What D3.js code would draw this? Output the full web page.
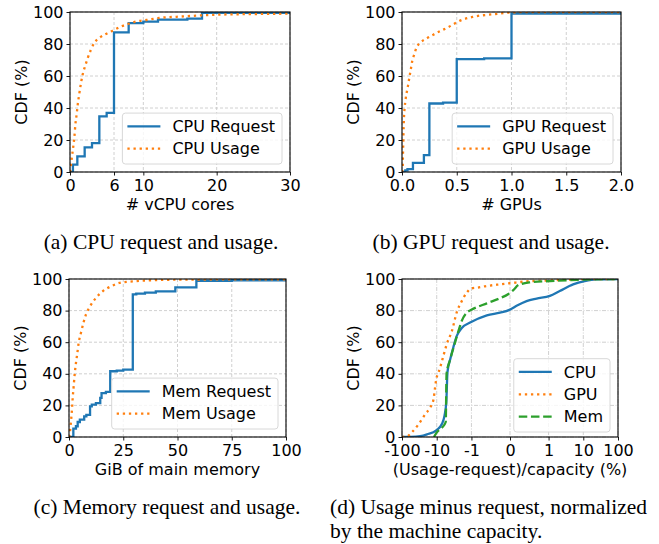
<!DOCTYPE html>
<html>
<head>
<meta charset="utf-8">
<script src="https://cdn.jsdelivr.net/npm/d3@7"></script>
<style>
  body { margin: 0; background: #fff; }
  svg { display: block; background: #fff; font-family: "DejaVu Sans", sans-serif; }
  .caption { font-family: "Liberation Serif", "Times New Roman", serif; font-size: 21.5px; fill: #000; }
</style>
</head>
<body>
<svg id="chart"></svg>
<script>
// values (CDF in %)

// (a) CPU
const cpuReqX = [0, 0.4, 1, 2, 3, 4, 5, 6, 8, 10, 12, 16, 18, 30];
const cpuReqY = [0, 4.6, 9.8, 15.4, 18, 34.8, 36.9, 87.3, 93, 94, 95.2, 95.8, 99.5, 99.5];
const cpuUseX = [0, 0.14, 0.27, 0.45, 0.6, 0.73, 0.9, 1.05, 1.27, 1.5, 1.73, 2.05, 2.4, 2.86, 3.3, 4.0, 4.9, 5.8, 6.7, 7.9, 9, 10.4, 12.6, 14.5, 20, 25, 30];
const cpuUseY = [0, 4.6, 9.8, 16, 22, 29.6, 35.8, 42, 49, 55.6, 61, 66, 71, 76.5, 80.6, 83.8, 86.3, 88.3, 90.4, 92.5, 94, 95, 96.5, 97, 98.3, 98.7, 99];

// (b) GPU
const gpuReqX = [0, 0.03, 0.05, 0.1, 0.2, 0.25, 0.375, 0.5, 0.75, 1.0, 2.0];
const gpuReqY = [0, 1, 1.8, 5.7, 10.5, 42.8, 43.3, 70.6, 71, 99, 99];
const gpuUseX = [0, 0.006, 0.009, 0.012, 0.015, 0.018, 0.024, 0.033, 0.043, 0.055, 0.067, 0.08, 0.094, 0.113, 0.134, 0.164, 0.225, 0.286, 0.347, 0.42, 0.53, 0.65, 0.85, 0.97, 1.2, 2.0];
const gpuUseY = [0, 2.7, 11, 19.4, 28, 34, 40, 45.5, 49.7, 54, 59, 64, 69.5, 73.7, 78, 80.6, 83.5, 85.8, 88, 90.4, 94.6, 97, 98.7, 99.6, 100, 100];

// (c) memory, GiB
const memReqX = [0, 2, 3.2, 4, 5, 7, 8, 9.7, 10.5, 12.4, 14.4, 15, 17, 19, 22, 25, 29.4, 31, 35, 40, 49, 58.7, 75, 100];
const memReqY = [0, 5.3, 6.8, 9.5, 11, 13, 14, 19.4, 20.5, 21.5, 24.7, 27.8, 28.5, 41.6, 42, 42.6, 90.3, 90.8, 91.4, 92.2, 94.7, 98.9, 99.2, 99.4];
const memUseX = [0, 0.46, 0.92, 1.4, 1.7, 2.15, 2.6, 3.2, 3.84, 4.45, 5.5, 6.6, 7.8, 9.7, 12.4, 15.5, 19.4, 23.2, 29.3, 38.6, 50, 100];
const memUseY = [0, 3.6, 10, 18, 24.7, 32, 39.5, 46.8, 53, 59.5, 65.8, 72, 77.4, 82.7, 88, 92.2, 95.4, 97.5, 98.5, 99.2, 99.6, 99.8];

// (d) (usage - request) / capacity, %
const diffCpuX = [-100, -40, -30, -19, -10.3, -7.1, -5.96, -5.3, -4.9, -4.1, -3.3, -2.64, -1.9, -1.09, -0.6, -0.26, 0, 0.17, 0.43, 0.69, 1.09, 2.1, 5.1, 11, 24, 100];
const diffCpuY = [0, 0.2, 0.5, 1.7, 4.2, 8.2, 13.5, 22, 41, 49, 57, 64, 69, 72.4, 77, 78.7, 80.6, 83, 86, 87.6, 89.3, 92.4, 96.6, 98.7, 99.8, 100];
const diffGpuX = [-100, -70, -52, -33, -21.4, -15.3, -12.3, -11.5, -10.3, -8.8, -7.5, -6.3, -5.1, -3.66, -2.64, -1.9, -1.36, -1.04, -0.86, -0.6, -0.26, 0, 0.43, 0.95, 5.1, 20, 100];
const diffGpuY = [0, 0.5, 3, 8.2, 14.5, 18.7, 24, 29, 36.6, 41, 46, 52, 59, 67, 79, 86, 91.4, 94, 94.5, 95.6, 96.6, 97.3, 98.5, 99, 99.7, 100, 100];
const diffMemX = [-12, -9.9, -7, -5.5, -5.2, -4.1, -2.95, -2.37, -1.9, -1.36, -1, -0.6, -0.26, -0.04, 0.087, 0.22, 0.52, 1.1, 9.9, 100];
const diffMemY = [0, 3, 6, 9.5, 40, 49, 60, 67, 73.5, 78.7, 80.5, 84.6, 87.8, 90.5, 93, 96.2, 97.9, 98.7, 99.6, 100];

// tick labels
const yTicks = [0, 20, 40, 60, 80, 100];
const cpuTicks = [0, 6, 10, 20, 30];
const gpuTicks = [0, 0.5, 1.0, 1.5, 2.0];
const gpuTickLabels = ["0.0", "0.5", "1.0", "1.5", "2.0"];
const memTicks = [0, 25, 50, 75, 100];
const diffTicks = [-100, -10, -1, 0, 1, 10, 100];
const diffTickLabels = ["-100", "-10", "-1", "0", "1", "10", "100"];

const captions = [
  { text: ["(a) CPU request and usage."], x: 161, y: 249, anchor: "middle" },
  { text: ["(b) GPU request and usage."], x: 491, y: 249, anchor: "middle" },
  { text: ["(c) Memory request and usage."], x: 167, y: 514, anchor: "middle" },
  { text: ["(d) Usage minus request, normalized", "by the machine capacity."], x: 330, y: 514, anchor: "start" }
];

const BLUE = "#1f77b4", ORANGE = "#ff7f0e", GREEN = "#2ca02c";
const LW = 2.3;
const FS = 16;
const solid = null, dotted = `${LW},${LW * 1.65}`, dashed = `${LW * 3.7},${LW * 1.6}`;

// matplotlib-like symlog, linthresh 1, linscale 1
const symT = v => {
  const c = 1 / (1 - 1 / 10);
  const a = Math.abs(v);
  return a <= 1 ? v * c : Math.sign(v) * (c + Math.log10(a));
};

const zip = (xs, ys) => xs.map((x, i) => [x, ys[i]]);

const W = 659, H = 544;
const svg = d3.select("#chart").attr("width", W).attr("height", H);

class CdfPanel {
  constructor(_config) {
    this.config = {
      parentElement: _config.parentElement,
      id: _config.id,
      left: _config.left,
      top: _config.top,
      width: _config.width,
      height: _config.height,
      xDomain: _config.xDomain,
      xTicks: _config.xTicks,
      xTickLabels: _config.xTickLabels || _config.xTicks.map(String),
      xTransform: _config.xTransform || (d => d),
      xLabel: _config.xLabel,
      gridDash: _config.gridDash || "3,2",
      legendBottom: _config.legendBottom || 8
    };
    this.series = _config.series;
    this.initVis();
    this.update();
  }

  initVis() {
    let vis = this;
    const c = vis.config;

    vis.chart = c.parentElement.append("g")
      .attr("transform", `translate(${c.left},${c.top})`);

    vis.xLin = d3.scaleLinear()
      .domain(c.xDomain.map(c.xTransform))
      .range([0, c.width]);
    vis.x = d => vis.xLin(c.xTransform(d));
    vis.y = d3.scaleLinear().domain([0, 100]).range([c.height, 0]);

    vis.chart.append("clipPath").attr("id", "clip-" + c.id)
      .append("rect").attr("width", c.width).attr("height", c.height);

    vis.grid = vis.chart.append("g").attr("class", "grid");
    vis.lines = vis.chart.append("g").attr("clip-path", `url(#clip-${c.id})`);
    vis.legend = vis.chart.append("g").attr("class", "legend");
    vis.xAxisG = vis.chart.append("g").attr("transform", `translate(0,${c.height})`);
    vis.yAxisG = vis.chart.append("g");
  }

  update() {
    let vis = this;
    const c = vis.config;

    // grid
    vis.grid.selectAll(".gx")
      .data(c.xTicks)
      .join("line")
      .attr("class", "gx")
      .attr("x1", d => vis.x(d)).attr("x2", d => vis.x(d))
      .attr("y1", 0).attr("y2", c.height);
    vis.grid.selectAll(".gy")
      .data(yTicks)
      .join("line")
      .attr("class", "gy")
      .attr("x1", 0).attr("x2", c.width)
      .attr("y1", d => vis.y(d)).attr("y2", d => vis.y(d));
    vis.grid.selectAll("line")
      .attr("stroke", "#c4c4c4")
      .attr("stroke-width", 0.8)
      .attr("stroke-dasharray", c.gridDash);

    // curves
    vis.lines.selectAll("path")
      .data(vis.series)
      .join("path")
      .attr("fill", "none")
      .attr("stroke", d => d.color)
      .attr("stroke-width", LW)
      .attr("stroke-dasharray", d => d.dash)
      .attr("d", d => d3.line()
        .x(p => vis.x(p[0]))
        .y(p => vis.y(p[1]))
        .curve(d.step ? d3.curveStepAfter : d3.curveMonotoneX)(d.values));

    // axes
    const xAxis = d3.axisBottom(vis.xLin)
      .tickValues(c.xTicks.map(c.xTransform))
      .tickFormat((d, i) => c.xTickLabels[i])
      .tickSize(3.5).tickPadding(4.2);
    const yAxis = d3.axisLeft(vis.y)
      .tickValues(yTicks)
      .tickSize(3.5).tickPadding(3);

    vis.xAxisG.call(xAxis);
    vis.yAxisG.call(yAxis);
    [vis.xAxisG, vis.yAxisG].forEach(g => {
      g.select(".domain").remove();
      g.attr("font-family", "DejaVu Sans, sans-serif").attr("font-size", FS);
      g.selectAll(".tick line").attr("stroke", "#000").attr("stroke-width", 0.9);
      g.selectAll(".tick text").attr("fill", "#000");
    });

    // frame
    vis.chart.append("rect")
      .attr("width", c.width).attr("height", c.height)
      .attr("fill", "none").attr("stroke", "#000").attr("stroke-width", 1.1);

    // axis titles
    vis.chart.append("text")
      .attr("x", c.width / 2).attr("y", c.height + 38)
      .attr("text-anchor", "middle")
      .attr("font-size", FS)
      .text(c.xLabel);
    vis.chart.append("text")
      .attr("transform", `translate(-49,${c.height / 2}) rotate(-90)`)
      .attr("text-anchor", "middle")
      .attr("dy", "0.35em")
      .attr("font-size", FS)
      .text("CDF (%)");

    vis.renderLegend();
  }

  renderLegend() {
    let vis = this;
    const c = vis.config;
    const rowH = 22.4, padTop = 13.2, padBottom = 15.3;

    const box = vis.legend.append("rect")
      .attr("rx", 3).attr("ry", 3)
      .attr("fill", "#fff").attr("fill-opacity", 0.8)
      .attr("stroke", "#d4d4d4").attr("stroke-width", 0.9);

    const rows = vis.legend.selectAll(".row")
      .data(vis.series)
      .join("g")
      .attr("class", "row")
      .attr("transform", (d, i) => `translate(0,${padTop + i * rowH})`);
    rows.append("line")
      .attr("x1", 5).attr("x2", 38)
      .attr("stroke", d => d.color)
      .attr("stroke-width", LW)
      .attr("stroke-dasharray", d => d.dash);
    const labels = rows.append("text")
      .attr("x", 50)
      .attr("dy", "0.35em")
      .attr("font-size", FS)
      .text(d => d.name);

    let tw = 0;
    labels.each(function () { tw = Math.max(tw, this.getComputedTextLength()); });
    const bw = 50 + tw + 7;
    const bh = padTop + (vis.series.length - 1) * rowH + padBottom;
    box.attr("width", bw).attr("height", bh);
    vis.legend.attr("transform",
      `translate(${c.width - 8 - bw},${c.height - c.legendBottom - bh})`);
  }
}

new CdfPanel({
  parentElement: svg, id: "a",
  left: 70, top: 12, width: 220, height: 160,
  xDomain: [0, 30], xTicks: cpuTicks, xLabel: "# vCPU cores",
  series: [
    { name: "CPU Request", values: zip(cpuReqX, cpuReqY), color: BLUE, dash: solid, step: true },
    { name: "CPU Usage", values: zip(cpuUseX, cpuUseY), color: ORANGE, dash: dotted }
  ]
});

new CdfPanel({
  parentElement: svg, id: "b",
  left: 402, top: 12, width: 219, height: 160,
  xDomain: [0, 2], xTicks: gpuTicks, xTickLabels: gpuTickLabels, xLabel: "# GPUs",
  series: [
    { name: "GPU Request", values: zip(gpuReqX, gpuReqY), color: BLUE, dash: solid, step: true },
    { name: "GPU Usage", values: zip(gpuUseX, gpuUseY), color: ORANGE, dash: dotted }
  ]
});

new CdfPanel({
  parentElement: svg, id: "c",
  left: 69, top: 279, width: 217, height: 158,
  xDomain: [0, 100], xTicks: memTicks, xLabel: "GiB of main memory",
  series: [
    { name: "Mem Request", values: zip(memReqX, memReqY), color: BLUE, dash: solid, step: true },
    { name: "Mem Usage", values: zip(memUseX, memUseY), color: ORANGE, dash: dotted }
  ]
});

new CdfPanel({
  parentElement: svg, id: "d",
  left: 402, top: 279, width: 216, height: 158,
  xDomain: [-100, 100], xTicks: diffTicks, xTickLabels: diffTickLabels,
  xTransform: symT, gridDash: "4,1.5,1,1.5", legendBottom: 5,
  xLabel: "(Usage-request)/capacity (%)",
  series: [
    { name: "CPU", values: zip(diffCpuX, diffCpuY), color: BLUE, dash: solid },
    { name: "GPU", values: zip(diffGpuX, diffGpuY), color: ORANGE, dash: dotted },
    { name: "Mem", values: zip(diffMemX, diffMemY), color: GREEN, dash: dashed }
  ]
});

// sub-figure captions
svg.selectAll(".caption")
  .data(captions)
  .join("text")
  .attr("class", "caption")
  .attr("x", d => d.x)
  .attr("y", d => d.y)
  .attr("text-anchor", d => d.anchor)
  .selectAll("tspan")
  .data(d => d.text.map(t => ({ t, x: d.x })))
  .join("tspan")
  .attr("x", d => d.x)
  .attr("dy", (d, i) => i === 0 ? 0 : 24)
  .text(d => d.t);
</script>
</body>
</html>
